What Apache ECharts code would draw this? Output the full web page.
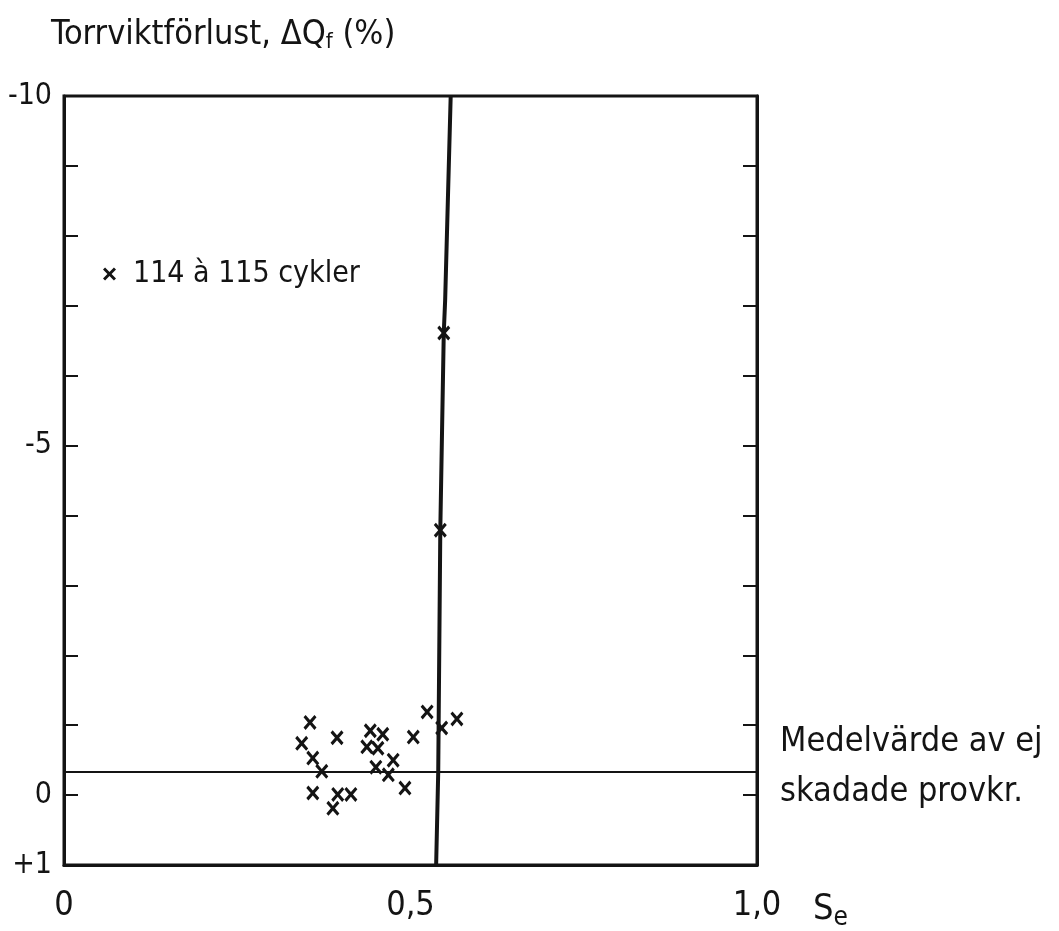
<!DOCTYPE html>
<html>
<head>
<meta charset="utf-8">
<script src="https://cdn.jsdelivr.net/npm/echarts@6/dist/echarts.min.js"></script>
<style>
  html, body { margin: 0; padding: 0; background: #fff; }
  #torrvikt { width: 1059px; height: 931px; }
</style>
</head>
<body>
<div id="torrvikt"></div>
<script>
// mätpunkter, 114 à 115 cykler
const seValues = [0.548, 0.543, 0.355, 0.343, 0.359, 0.372, 0.394, 0.359, 0.395, 0.414, 0.388,
  0.442, 0.460, 0.437, 0.453, 0.450, 0.475, 0.468, 0.492, 0.504, 0.524, 0.545, 0.567];
const lossValues = [-6.61, -3.79, -1.04, -0.74, -0.53, -0.34, -0.82, -0.03, -0.01, -0.01, 0.19,
  -0.92, -0.87, -0.69, -0.67, -0.40, -0.50, -0.29, -0.10, -0.83, -1.19, -0.96, -1.09];
// kritisk gräns (handritad lodrät linje)
const boundarySe = [0.558, 0.550, 0.548, 0.543, 0.540, 0.537];
const boundaryLoss = [-10, -7.08, -6.61, -3.79, -0.33, 1];
// medelvärde av ej skadade provkroppar
const meanLoss = -0.33;
const yLabels = { "-10": "-10", "-5": "-5", "0": "0", "1": "+1" };
const xLabels = { "0": "0", "0.5": "0,5", "1": "1,0" };

const font = "'DejaVu Sans Condensed', 'Liberation Sans Narrow', 'DejaVu Sans', sans-serif";
const ink = "#141414";
const crossPath = "path://M0,1.6L1.6,0L5,3.4L8.4,0L10,1.6L6.6,5L10,8.4L8.4,10L5,6.6L1.6,10L0,8.4L3.4,5Z";

let chart = echarts.init(document.getElementById("torrvikt"));

let points = seValues.map((s, i) => [s, lossValues[i]]);
let boundary = boundarySe.map((s, i) => [s, boundaryLoss[i]]);
let meanLine = [[0, meanLoss], [1, meanLoss]];

let yAxisBase = {
  type: "value",
  inverse: true,
  min: -10,
  max: 1,
  interval: 1,
  splitLine: { show: false },
  axisLine: { show: true, onZero: false, lineStyle: { color: ink, width: 3 } },
  axisTick: { show: true, inside: true, length: 14, lineStyle: { color: ink, width: 2 } }
};

let option = {
  backgroundColor: "#fff",
  animation: false,
  title: [
    {
      text: "{a|Torrviktförlust, ΔQ}{s|f}{a| (%)}",
      left: 46,
      top: 12,
      textStyle: {
        fontWeight: "normal",
        rich: {
          a: { fontFamily: font, fontSize: 34, fontWeight: "normal", color: ink },
          s: { fontFamily: font, fontSize: 22, fontWeight: "normal", color: ink, verticalAlign: "bottom", padding: [14, 0, 0, 0] }
        }
      }
    },
    {
      text: "Medelvärde av ej\nskadade provkr.",
      left: 775,
      top: 712,
      textStyle: { fontFamily: font, fontSize: 34, fontWeight: "normal", color: ink, lineHeight: 50 }
    }
  ],
  legend: {
    left: 98,
    top: 254,
    itemWidth: 13,
    itemHeight: 13,
    data: ["114 à 115 cykler"],
    textStyle: { fontFamily: font, fontSize: 30, color: ink, padding: [0, 0, 0, 12] }
  },
  grid: {
    left: 64,
    right: 302,
    top: 96,
    bottom: 66,
    show: true,
    borderColor: ink,
    borderWidth: 3
  },
  xAxis: {
    type: "value",
    min: 0,
    max: 1,
    interval: 0.5,
    name: "S{sub|e}",
    nameLocation: "end",
    nameGap: 56,
    nameTextStyle: {
      fontFamily: font,
      fontSize: 36,
      color: ink,
      verticalAlign: "top",
      padding: [24, 0, 0, 0],
      rich: { sub: { fontFamily: font, fontSize: 26, color: ink, verticalAlign: "bottom", padding: [16, 0, 0, 0] } }
    },
    splitLine: { show: false },
    axisTick: { show: false },
    axisLine: { show: true, onZero: false, lineStyle: { color: ink, width: 3 } },
    axisLabel: {
      margin: 24,
      fontFamily: font,
      fontSize: 34,
      color: ink,
      formatter: v => xLabels[String(v)] || ""
    }
  },
  yAxis: [
    Object.assign({}, yAxisBase, {
      position: "left",
      axisLabel: {
        margin: 12,
        fontFamily: font,
        fontSize: 30,
        color: ink,
        formatter: v => yLabels[String(v)] || ""
      }
    }),
    Object.assign({}, yAxisBase, {
      position: "right",
      axisLabel: { show: false }
    })
  ],
  series: [
    {
      name: "kritisk gräns",
      type: "line",
      data: boundary,
      showSymbol: false,
      silent: true,
      lineStyle: { color: ink, width: 4 },
      z: 3
    },
    {
      name: "medelvärde",
      type: "line",
      data: meanLine,
      showSymbol: false,
      silent: true,
      lineStyle: { color: ink, width: 2 },
      z: 3
    },
    {
      name: "114 à 115 cykler",
      type: "scatter",
      data: points,
      symbol: crossPath,
      symbolSize: [13, 15],
      itemStyle: { color: ink, opacity: 1 },
      z: 5
    }
  ]
};
chart.setOption(option);
</script>
</body>
</html>
